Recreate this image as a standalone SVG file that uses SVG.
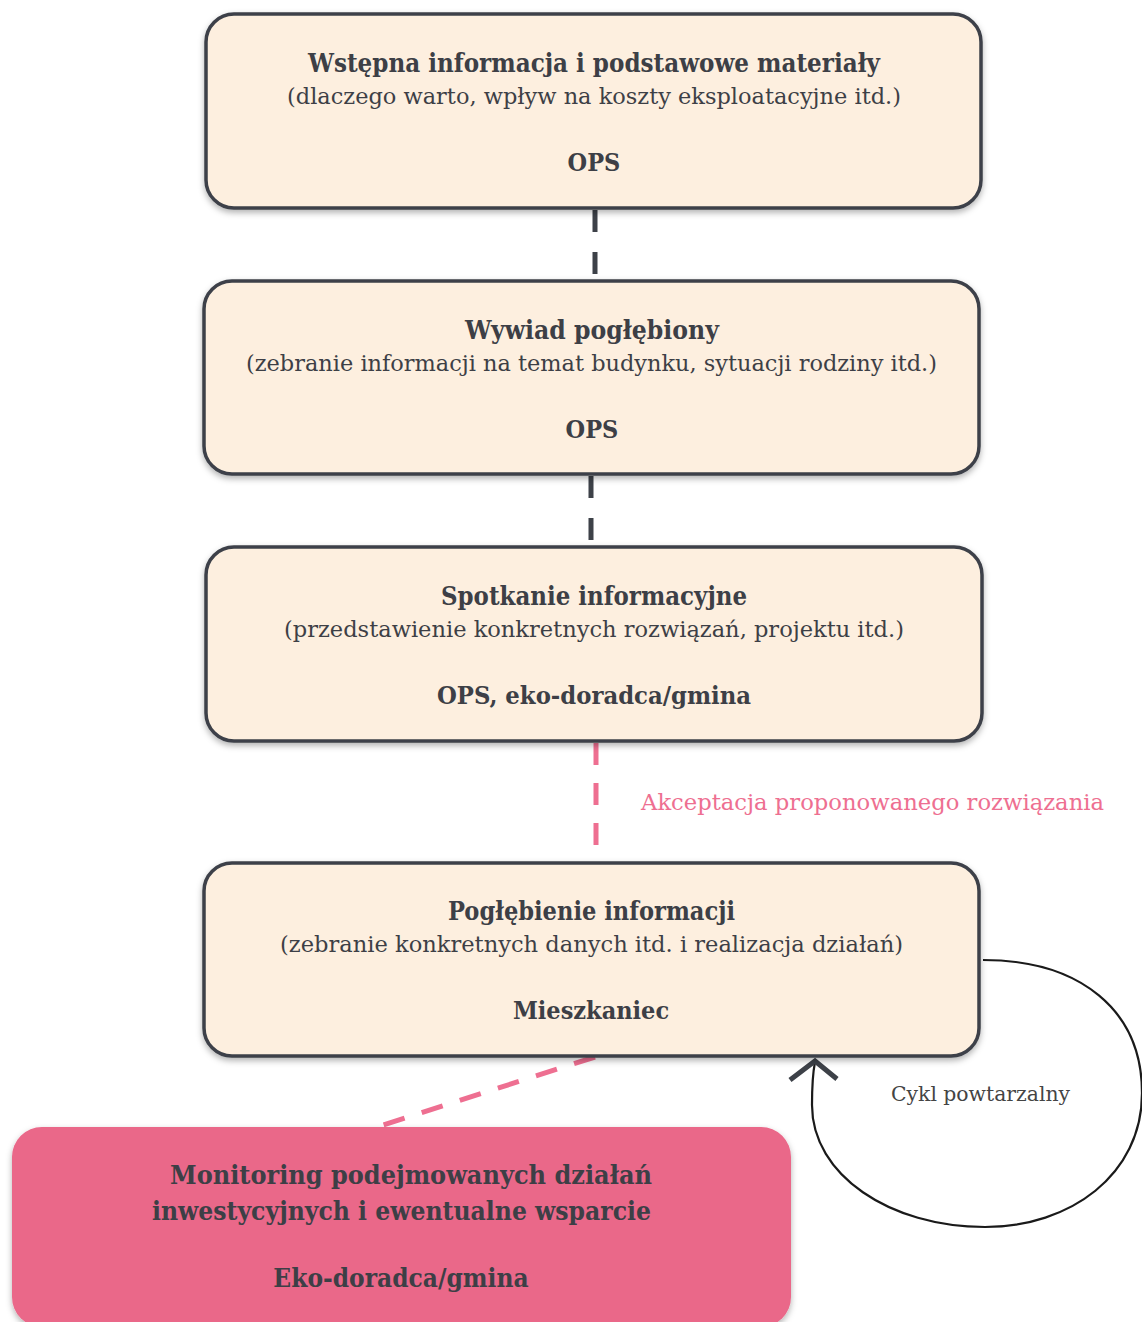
<svg xmlns="http://www.w3.org/2000/svg" width="1142" height="1322" viewBox="0 0 1142 1322">
<style>
.box{fill:#fdefdf;stroke:#3d4148;stroke-width:3.5;filter:url(#sh)}
.pink{fill:#ea6789;filter:url(#sh)}
text{font-family:"DejaVu Serif Condensed","DejaVu Serif",serif;fill:#3d3f46;text-anchor:middle;font-stretch:condensed}
.t{font-size:25.5px;font-weight:bold}
.s{font-size:22.5px;font-stretch:normal}
.o{font-size:25px;font-weight:bold}
.m{font-size:26px;font-weight:bold}
.lab{font-size:23px;fill:#ee6f91;text-anchor:start;font-stretch:normal}
.cyc{font-size:20px;fill:#444;text-anchor:start;font-stretch:normal}
.dk{stroke:#3d4148;stroke-width:5;stroke-dasharray:22 20;fill:none}
.pk{stroke:#ee6f91;stroke-width:5;stroke-dasharray:22 18;fill:none}
</style>
<defs>
<filter id="sh" x="-5%" y="-10%" width="110%" height="125%">
<feDropShadow dx="0" dy="3" stdDeviation="3" flood-color="#000" flood-opacity="0.3"/>
</filter>
</defs>
<rect width="1142" height="1322" fill="#fff"/>
<g id="connectors">
<line class="dk" x1="595" y1="210" x2="595" y2="281"/>
<line class="dk" x1="591" y1="476" x2="591" y2="547"/>
<line class="pk" x1="596" y1="743" x2="596" y2="862"/>
<line class="pk" x1="595" y1="1057" x2="377" y2="1127"/>
<path d="M983 960 C1080 960 1142 1010 1142 1093 C1142 1175 1070 1227 985 1227 C890 1227 812 1175 812 1105 C812 1085 813 1072 815 1062" fill="none" stroke="#1a1a1a" stroke-width="2.2"/>
<polyline points="790,1080 815,1061 837,1079" fill="none" stroke="#3d4148" stroke-width="5"/>
<text class="lab" x="641" y="810" textLength="463" lengthAdjust="spacingAndGlyphs">Akceptacja proponowanego rozwiązania</text>
<text class="cyc" x="891" y="1101" textLength="179" lengthAdjust="spacingAndGlyphs">Cykl powtarzalny</text>
</g>
<g id="n1">
<rect class="box" x="206" y="14" width="775" height="194" rx="28"/>
<text class="t" x="594" y="72" textLength="572" lengthAdjust="spacingAndGlyphs">Wstępna informacja i podstawowe materiały</text>
<text class="s" x="594" y="104" textLength="614" lengthAdjust="spacingAndGlyphs">(dlaczego warto, wpływ na koszty eksploatacyjne itd.)</text>
<text class="o" x="594" y="171">OPS</text>
</g>
<g id="n2">
<rect class="box" x="204" y="281" width="775" height="193" rx="28"/>
<text class="t" x="592" y="339" textLength="254" lengthAdjust="spacingAndGlyphs">Wywiad pogłębiony</text>
<text class="s" x="591.5" y="371" textLength="691" lengthAdjust="spacingAndGlyphs">(zebranie informacji na temat budynku, sytuacji rodziny itd.)</text>
<text class="o" x="592" y="438">OPS</text>
</g>
<g id="n3">
<rect class="box" x="206" y="547" width="776" height="194" rx="28"/>
<text class="t" x="594" y="605" textLength="306" lengthAdjust="spacingAndGlyphs">Spotkanie informacyjne</text>
<text class="s" x="594" y="637" textLength="620" lengthAdjust="spacingAndGlyphs">(przedstawienie konkretnych rozwiązań, projektu itd.)</text>
<text class="o" x="594" y="704" textLength="314" lengthAdjust="spacingAndGlyphs">OPS, eko-doradca/gmina</text>
</g>
<g id="n4">
<rect class="box" x="204" y="863" width="775" height="193" rx="28"/>
<text class="t" x="591.5" y="920" textLength="287" lengthAdjust="spacingAndGlyphs">Pogłębienie informacji</text>
<text class="s" x="591.5" y="952" textLength="623" lengthAdjust="spacingAndGlyphs">(zebranie konkretnych danych itd. i realizacja działań)</text>
<text class="o" x="591" y="1019">Mieszkaniec</text>
</g>
<g id="n5">
<rect class="pink" x="12" y="1127" width="779" height="200" rx="30"/>
<text class="m" x="411" y="1184" textLength="482" lengthAdjust="spacingAndGlyphs">Monitoring podejmowanych działań</text>
<text class="m" x="401.5" y="1220" textLength="499" lengthAdjust="spacingAndGlyphs">inwestycyjnych i ewentualne wsparcie</text>
<text class="m" x="401" y="1287">Eko-doradca/gmina</text>
</g>
</svg>
